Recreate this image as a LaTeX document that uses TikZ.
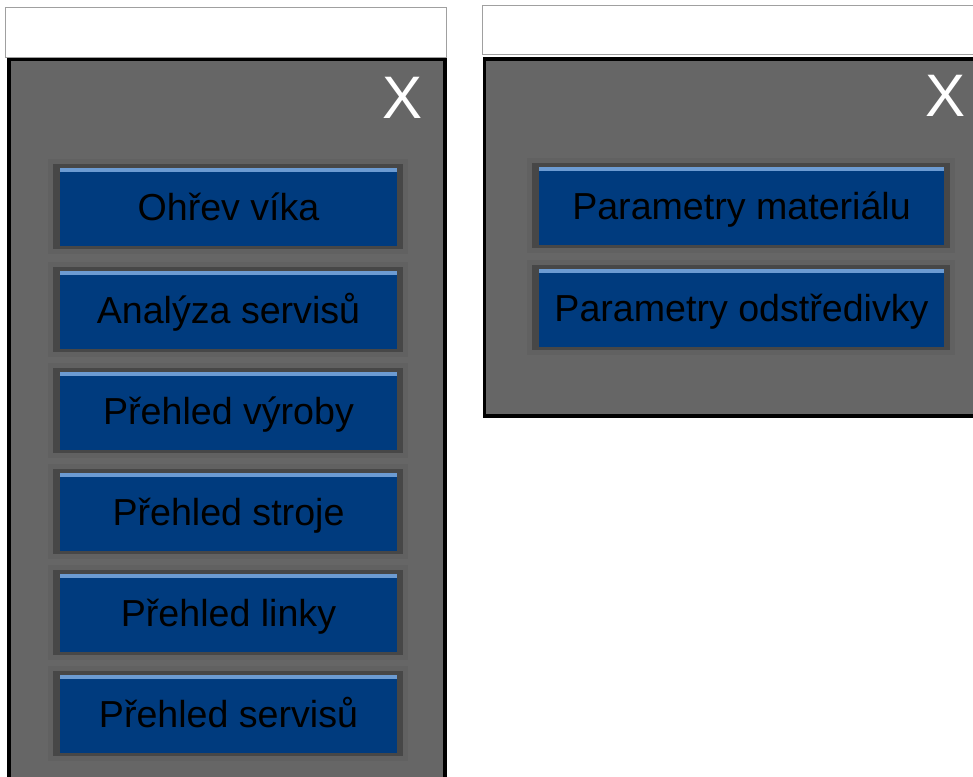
\documentclass[tikz,border=0pt]{standalone}
\usepackage{fontspec}
\setmainfont{Liberation Sans}

\definecolor{panelgray}{HTML}{666666}
\definecolor{btnblue}{HTML}{003B7E}
\definecolor{btnhi}{HTML}{6C9BD2}
\definecolor{btnframe}{HTML}{474747}
\definecolor{btnglow}{HTML}{616161}
\definecolor{barline}{HTML}{A0A0A0}

\tikzset{
  titlebar/.style={fill=white, draw=barline, line width=1pt},
  panel/.style={fill=panelgray, draw=black, line width=3.5pt},
  btn/.style={rectangle, fill=btnblue, inner sep=0pt, minimum height=78pt,
    text height=27pt, text depth=0pt, text=black,
    font=\fontsize{37.6}{40}\selectfont,
    path picture={\fill[btnhi] (path picture bounding box.north west)
      rectangle ([yshift=-4pt]path picture bounding box.north east);}},
  closex/.style={text=white, inner sep=0pt, text height=43pt, text depth=0pt,
    font=\fontsize{60}{62}\selectfont}
}

% #1 name, #2 centre x, #3 centre y, #4 width, #5 label
\newcommand\hmibutton[5]{%
  \fill[btnglow] (#2-#4/2-12,#3-39-9) rectangle (#2+#4/2+11,#3+39+8);
  \fill[btnframe] (#2-#4/2-7,#3-39-4) rectangle (#2+#4/2+6,#3+39+3);
  \node[btn, minimum width=#4pt] (#1) at (#2,#3) {#5};
}

\begin{document}
\begin{tikzpicture}[x=1pt,y=-1pt]
  \useasboundingbox (0,0) rectangle (973,776);
  \fill[white] (0,0) rectangle (973,776);

  % left menu window
  \draw[titlebar] (5.5,7.5) rectangle (446.5,57);
  \draw[panel] (8.75,59.5) rectangle (444.75,800);
  \node[closex] (closeL) at (403,96.5) {X};
  \hmibutton{b1}{228.5}{207}{337}{Ohřev víka}
  \hmibutton{b2}{228.5}{310}{337}{Analýza servisů}
  \hmibutton{b3}{228.5}{411}{337}{Přehled výroby}
  \hmibutton{b4}{228.5}{512}{337}{Přehled stroje}
  \hmibutton{b5}{228.5}{613}{337}{Přehled linky}
  \hmibutton{b6}{228.5}{714}{337}{Přehled servisů}

  % right menu window
  \draw[titlebar] (482.5,5.5) rectangle (1000,55);
  \draw[panel] (484.25,59) rectangle (1000,416);
  \node[closex] (closeR) at (945,95) {X};
  \hmibutton{p1}{741.5}{206}{405}{Parametry materiálu}
  \hmibutton{p2}{741.5}{307.5}{405}{Parametry odstředivky}
\end{tikzpicture}
\end{document}
